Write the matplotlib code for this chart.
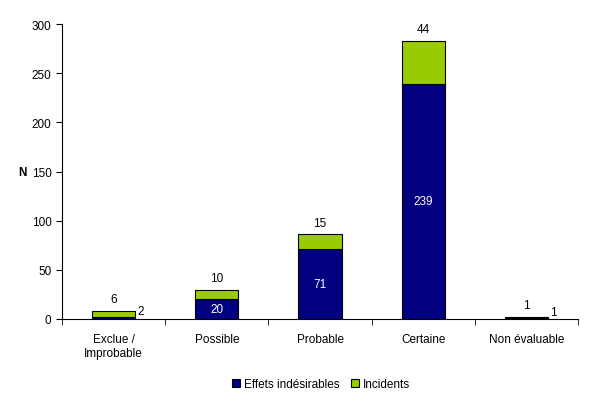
import matplotlib
matplotlib.use("Agg")
import matplotlib.pyplot as plt
import numpy as np

categories = ["Exclue /\nImprobable", "Possible", "Probable", "Certaine", "Non évaluable"]
effets = [2, 20, 71, 239, 1]
incidents = [6, 10, 15, 44, 1]

plt.rcParams['font.family'] = ['Liberation Sans', 'DejaVu Sans']
navy = "#000080"
green = "#99CC00"

fig = plt.figure(figsize=(5.99, 4.02), dpi=100)
ax = fig.add_axes([62/599, 82/402, 516/599, 295/402])

x = np.arange(len(categories))
w = 0.42
ax.bar(x, effets, w, color=navy, edgecolor="black", linewidth=0.8, label="Effets indésirables")
ax.bar(x, incidents, w, bottom=effets, color=green, edgecolor="black", linewidth=0.8, label="Incidents")

for i, (e, inc) in enumerate(zip(effets, incidents)):
    total = e + inc
    if e >= 10:
        ax.text(x[i], e / 2, str(e), ha="center", va="center", color="white", fontsize=8.5)
    else:
        ax.text(x[i] + w / 2 + 0.02, e, str(e), ha="left", va="bottom", color="black", fontsize=8.5)
    ax.text(x[i], total + 6, str(inc), ha="center", va="bottom", color="black", fontsize=8.5)

ax.set_xlim(-0.5, len(categories) - 0.5)
ax.set_ylim(0, 300)
ax.set_yticks(np.arange(0, 301, 50))
ax.tick_params(axis="y", labelsize=8.5, length=4, direction="out")
ax.set_xticks(x)
ax.set_xticklabels(categories, fontsize=8.5)
ax.tick_params(axis="x", length=0, pad=10)
ax.set_xticks(np.arange(-0.5, len(categories) + 0.5, 1), minor=True)
ax.tick_params(axis="x", which="minor", length=4, direction="out")
for s in ["top", "right"]:
    ax.spines[s].set_visible(False)
ax.spines["left"].set_linewidth(0.8)
ax.spines["bottom"].set_linewidth(0.8)

ax.set_ylabel("N", rotation=0, fontsize=8.5, fontweight="bold", labelpad=7, va="center")

fig.legend(loc="center", bbox_to_anchor=(321/599, 1 - 385/402), ncol=2, frameon=False,
           fontsize=8.5, handlelength=0.7, handleheight=0.7, handletextpad=0.3, columnspacing=1.0)

fig.savefig("out.png", dpi=100)
